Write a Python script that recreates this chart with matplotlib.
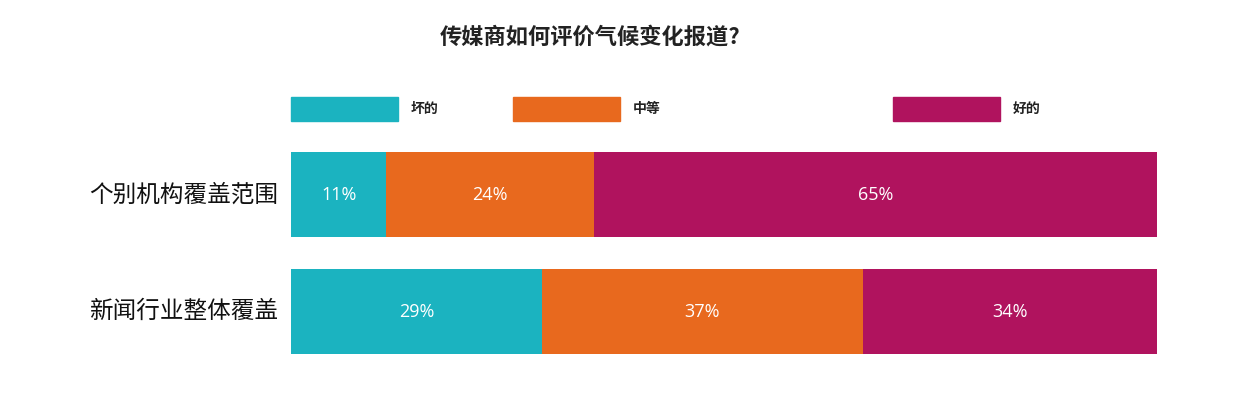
import matplotlib
matplotlib.use("Agg")
import matplotlib.pyplot as plt
from matplotlib.patches import Rectangle

plt.rcParams['font.family'] = ['Noto Sans CJK SC', 'DejaVu Sans']

categories = ["个别机构覆盖范围", "新闻行业整体覆盖"]
series_names = ["坏的", "中等", "好的"]
bad = [11, 29]
medium = [24, 37]
good = [65, 34]
colors = ["#1BB3C0", "#E8691E", "#B0135E"]

W, H = 1259, 400
fig = plt.figure(figsize=(W/100, H/100), dpi=100)
ax = fig.add_axes([291/W, 1-370/H, 866/W, 230/H])
left = [0, 0]
for vals, c in zip([bad, medium, good], colors):
    ax.barh(range(len(categories)), vals, left=left, height=0.727, color=c)
    for i, v in enumerate(vals):
        ax.text(left[i] + v/2, i, f"{v}%", ha='center', va='center',
                color='white', fontsize=13, family=['Open Sans', 'DejaVu Sans'])
    left = [l + v for l, v in zip(left, vals)]
ax.set_xlim(0, 100)
ax.set_ylim(1.5, -0.47)
ax.axis('off')
for i, cat in enumerate(categories):
    ax.text(-0.015, i, cat, transform=ax.get_yaxis_transform(), ha='right', va='center',
            fontsize=17, color='#111111', fontstyle='italic')

fig.text(590/W, 1-37/H, "传媒商如何评价气候变化报道?", ha='center', va='center',
         fontsize=16, fontweight='bold', color='#222222')

leg_x = [291, 513, 893]
for x, name, c in zip(leg_x, series_names, colors):
    fig.patches.append(Rectangle((x/W, 1-121/H), 107/W, 24/H, color=c,
                                 transform=fig.transFigure))
    fig.text((x+120)/W, 1-109/H, name, ha='left', va='center', fontsize=10,
             fontweight='bold', color='#222222')

fig.savefig("out.png", dpi=100, facecolor='white')
